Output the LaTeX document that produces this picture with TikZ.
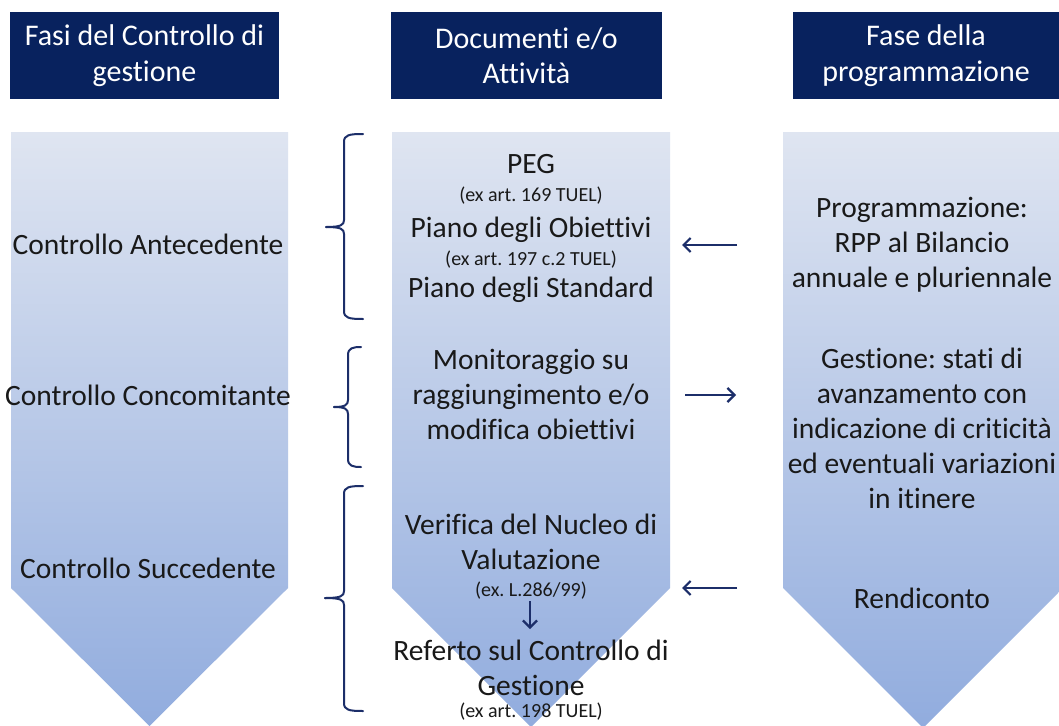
\documentclass[tikz,border=0pt]{standalone}
\usepackage{fontspec}
\setmainfont[Ligatures={NoCommon}]{Carlito}
\frenchspacing
\usetikzlibrary{arrows.meta}
\definecolor{navy}{RGB}{8,34,94}
\definecolor{linec}{RGB}{28,46,105}
\definecolor{chevtop}{RGB}{223,229,241}
\definecolor{chevbot}{RGB}{145,172,222}
\definecolor{txt}{RGB}{25,25,25}
\newcommand\mybrace[6]{%
  \draw[bracestyle] (#5,#2) .. controls (#1+5,#2) and (#1,#2+1) .. (#1,#2+8) -- (#1,#3-7)
    .. controls (#1,#3-2) and (#1-3,#3) .. (#6,#3);
  \draw[bracestyle] (#5,#4) .. controls (#1+5,#4) and (#1,#4-1) .. (#1,#4-8) -- (#1,#3+7)
    .. controls (#1,#3+2) and (#1-3,#3) .. (#6,#3);
}
\begin{document}
\begin{tikzpicture}[x=1pt,y=-1pt,
  hdr/.style={fill=navy, text=white, minimum height=87pt, inner sep=0pt, align=center,
    font=\fontsize{30}{35.5}\selectfont},
  body/.style={text=txt, align=center, inner sep=0pt, font=\fontsize{29.5}{35}\selectfont},
  small/.style={text=txt, align=center, inner sep=0pt, font=\fontsize{20}{24}\selectfont},
  chev/.style={top color=chevtop, bottom color=chevbot, draw=none},
  conn/.style={draw=linec, line width=2.2pt, -{Straight Barb[length=7pt,width=14pt]}},
  bracestyle/.style={draw=linec, line width=2pt, line cap=round, line join=round}]
\useasboundingbox (0,0) rectangle (1059,725);
\clip (0,0) rectangle (1059,725);
\fill[white] (0,0) rectangle (1059,725);

% headers
\node[hdr, minimum width=269pt] (h1) at (144.5,55.5) {Fasi del Controllo di\\gestione};
\node[hdr, minimum width=271pt] (h2) at (526.5,55.5) {Documenti e/o\\Attività};
\node[hdr, minimum width=266pt] (h3) at (926,55.5) {Fase della\\programmazione};

% chevrons
\path[chev] (11,132) -- (288,132) -- (288,588) -- (149.5,726) -- (11,588) -- cycle;
\path[chev] (392,132) -- (670,132) -- (670,588) -- (531,727) -- (392,588) -- cycle;
\path[chev] (783,132) -- (1063,132) -- (1063,588) -- (923,728) -- (783,588) -- cycle;

% left column
\node[body] (ca) at (148,244) {Controllo Antecedente};
\node[body] (cc) at (148,395) {Controllo Concomitante};
\node[body] (cs) at (148,568) {Controllo Succedente};

% middle column
\node[body] (peg) at (531,164) {PEG};
\node[small] (peg2) at (531,196) {(ex art. 169 TUEL)};
\node[body] (pdo) at (531,230) {Piano degli Obiettivi};
\node[small] (pdo2) at (531,260) {(ex art. 197 c.2 TUEL)};
\node[body] (pds) at (531,290) {Piano degli Standard};
\node[body] (mon) at (531,394) {Monitoraggio su\\raggiungimento e/o\\modifica obiettivi};
\node[body] (ver) at (531,542) {Verifica del Nucleo di\\Valutazione};
\node[small] (ver2) at (531,591) {(ex. L.286/99)};
\node[body] (ref) at (531,668) {Referto sul Controllo di\\Gestione};
\node[small] (ref2) at (531,712) {(ex art. 198 TUEL)};

% right column
\node[body] (prog) at (922,245) {Programmazione:\\RPP al Bilancio\\annuale e pluriennale};
\node[body] (gest) at (922,428) {Gestione: stati di\\avanzamento con\\indicazione di criticità\\ed eventuali variazioni\\in itinere};
\node[body] (rend) at (922,598) {Rendiconto};

% braces
\mybrace{344}{134}{227}{319}{363}{326}
\mybrace{348}{347}{407}{467}{361}{334}
\mybrace{344}{486}{598}{711}{363}{325}

% connectors
\coordinate (a1s) at (737,245);
\coordinate (a1e) at (682,245);
\coordinate (a2s) at (685,395);
\coordinate (a2e) at (736,395);
\coordinate (a3s) at (737,588);
\coordinate (a3e) at (682,588);
\coordinate (ds) at (530,601);
\coordinate (de) at (530,629);
\draw[conn] (a1s) -- (a1e);
\draw[conn] (a2s) -- (a2e);
\draw[conn] (a3s) -- (a3e);
\draw[conn] (ds) -- (de);
\end{tikzpicture}
\end{document}
